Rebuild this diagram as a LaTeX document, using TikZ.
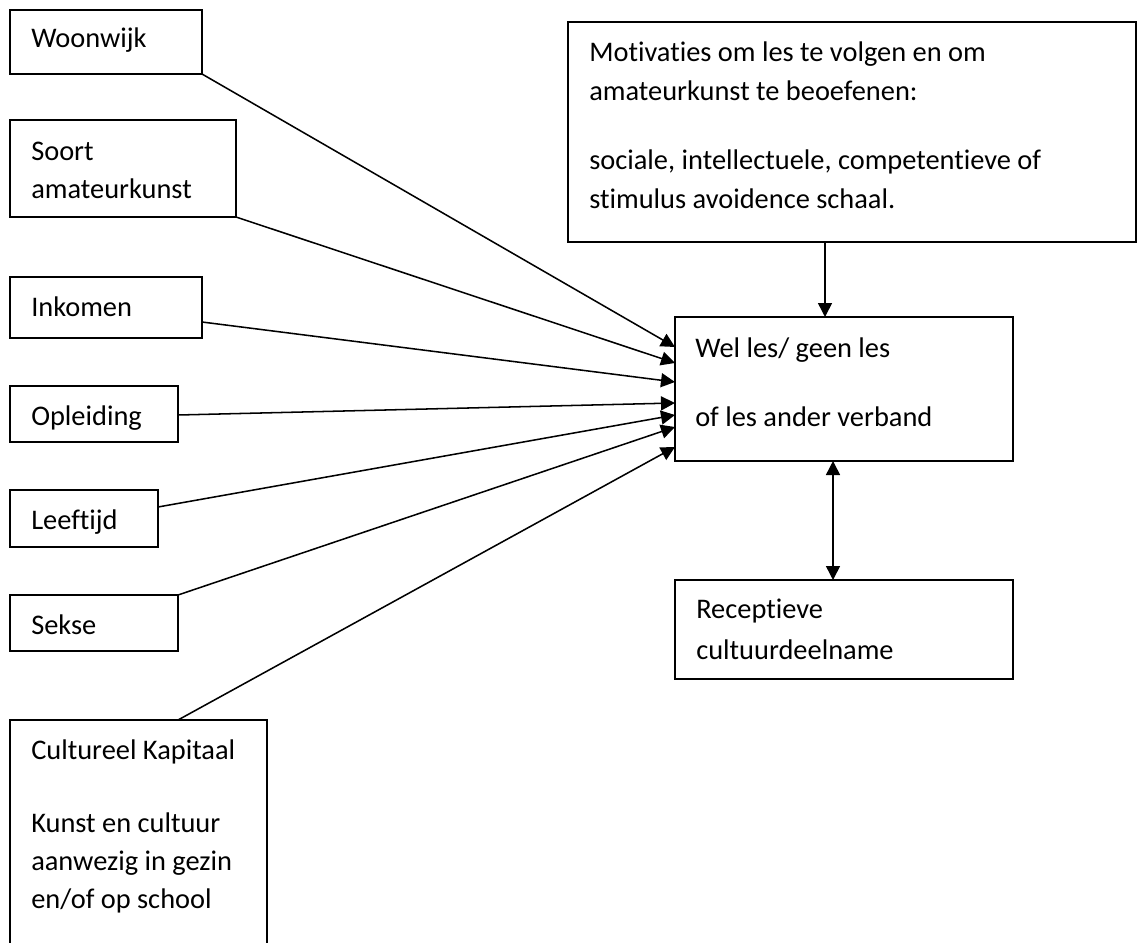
\documentclass[tikz,border=0pt]{standalone}
\usepackage{fontspec}
\setmainfont{Carlito}[Ligatures=NoCommon]
\usetikzlibrary{arrows.meta,calc}
\tikzset{
  box/.style={draw=black, line width=1.3pt, rectangle, inner sep=0pt, outer sep=0pt, anchor=north west},
  lbl/.style={anchor=base west, inner sep=0pt, font=\fontsize{21.3pt}{30pt}\selectfont},
  conn/.style={draw=black, line width=1.15pt, -{Triangle[length=10.5pt,width=10.5pt]}},
  dconn/.style={draw=black, line width=1.15pt, {Triangle[length=10.5pt,width=10.5pt]}-{Triangle[length=10.5pt,width=10.5pt]}}
}
\begin{document}
\begin{tikzpicture}[x=0.75pt,y=-0.75pt]
\clip (0,0) rectangle (1137,942);
\fill[white] (0,0) rectangle (1137,942);
% boxes
\node[box, minimum width=144pt, minimum height=48pt] (woon) at (10,10) {};
\node[box, minimum width=169.5pt, minimum height=72.75pt] (soort) at (10,120) {};
\node[box, minimum width=144pt, minimum height=45.75pt] (ink) at (10,277) {};
\node[box, minimum width=126pt, minimum height=42pt] (opl) at (10,386) {};
\node[box, minimum width=111pt, minimum height=42.75pt] (lee) at (10,490) {};
\node[box, minimum width=126pt, minimum height=42pt] (sek) at (10,595) {};
\node[box, minimum width=192.75pt, minimum height=180pt] (cult) at (10,720) {};
\node[box, minimum width=426pt, minimum height=165pt] (motiv) at (568,22) {};
\node[box, minimum width=253.5pt, minimum height=108pt] (center) at (675,317) {};
\node[box, minimum width=253.5pt, minimum height=74.25pt] (recep) at (675,580) {};
% labels
\node[lbl] (woonT) at (31,48) {Woonwijk};
\node[lbl] (soortT1) at (31,160) {Soort};
\node[lbl] (soortT2) at (31,198) {amateurkunst};
\node[lbl] (inkT) at (31,316) {Inkomen};
\node[lbl] (oplT) at (31,425) {Opleiding};
\node[lbl] (leeT) at (31,529) {Leeftijd};
\node[lbl] (sekT) at (31,634) {Sekse};
\node[lbl] (cultT1) at (31,759) {Cultureel Kapitaal};
\node[lbl] (cultT2) at (31,832) {Kunst en cultuur};
\node[lbl] (cultT3) at (31,870) {aanwezig in gezin};
\node[lbl] (cultT4) at (31,908) {en/of op school};
\node[lbl] (motivT1) at (589,61) {Motivaties om les te volgen en om};
\node[lbl] (motivT2) at (589,100) {amateurkunst te beoefenen:};
\node[lbl] (motivT3) at (589,169) {sociale, intellectuele, competentieve of};
\node[lbl] (motivT4) at (589,208) {stimulus avoidence schaal.};
\node[lbl] (centerT1) at (695,357) {Wel les/ geen les};
\node[lbl] (centerT2) at (695,426) {of les ander verband};
\node[lbl] (recepT1) at (696,618) {Receptieve};
\node[lbl] (recepT2) at (696,659) {cultuurdeelname};
% connectors
\draw[conn] (woon.south east) -- ($(center.north west)+(0,30)$);
\draw[conn] (soort.south east) -- ($(center.north west)+(0,46)$);
\draw[conn] ($(ink.north east)+(0,45)$) -- ($(center.north west)+(0,65)$);
\draw[conn] ($(opl.north east)+(0,29)$) -- ($(center.north west)+(0,86)$);
\draw[conn] ($(lee.north east)+(0,17)$) -- ($(center.north west)+(0,98)$);
\draw[conn] (sek.north east) -- ($(center.north west)+(0,110)$);
\draw[conn] ($(cult.north west)+(168,0)$) -- ($(center.north west)+(0,130)$);
\draw[conn] ($(motiv.south west)+(257,0)$) -- ($(center.north west)+(150,0)$);
\draw[dconn] ($(center.south west)+(158,0)$) -- ($(recep.north west)+(158,0)$);
\end{tikzpicture}
\end{document}
